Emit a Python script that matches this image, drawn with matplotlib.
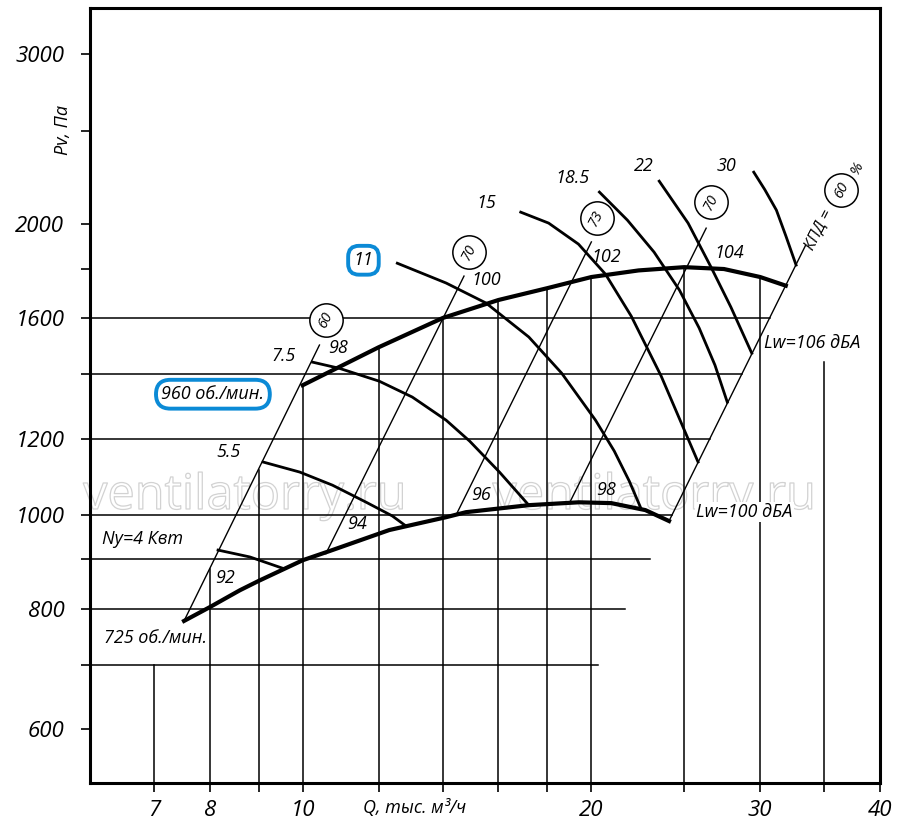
import numpy as np
import matplotlib
matplotlib.use("Agg")
import matplotlib.pyplot as plt
from matplotlib import patheffects as pe
from matplotlib.ticker import NullFormatter

plt.rcParams['font.family'] = ['Open Sans', 'DejaVu Sans']
plt.rcParams['font.style'] = 'italic'

# расход Q, тыс. м3/ч  /  давление Pv, Па
q_960 = [10.0, 12.0, 14.0, 16.0, 18.0, 20.0, 22.4, 25.0, 27.5, 30.0, 31.9]
p_960 = [1363, 1492, 1600, 1670, 1718, 1764, 1792, 1806, 1798, 1764, 1728]
q_725 = [7.52, 8.0, 8.6, 9.0, 10.0, 10.67, 12.31, 14.11, 14.8, 17.21, 19.41, 20.98, 22.77, 24.1]
p_725 = [777, 803, 836, 855, 898, 918, 965, 995, 1007, 1024, 1031, 1029, 1012, 986]

# линии мощности Ny, кВт
power_names = ['Ny=4 Квт', '5.5', '7.5', '11', '15', '18.5', '22', '30']
power_q = [
    [8.16, 8.81, 9.53],
    [9.09, 9.93, 10.74, 11.65, 12.40, 12.82],
    [10.24, 10.92, 12.02, 13.01, 14.11, 14.93, 16.04, 17.21],
    [12.55, 14.11, 15.53, 17.21, 18.62, 20.20, 21.13, 21.91, 22.55],
    [16.88, 18.05, 19.39, 20.69, 22.01, 23.65, 24.93, 25.84],
    [20.39, 21.81, 23.25, 24.71, 25.91, 26.91, 27.72],
    [23.54, 25.23, 26.66, 27.96, 29.40],
    [29.54, 30.33, 31.19, 31.91, 32.70],
]
power_p = [
    [920, 905, 881],
    [1135, 1108, 1074, 1031, 998, 974],
    [1440, 1419, 1376, 1325, 1254, 1193, 1108, 1024],
    [1823, 1739, 1658, 1529, 1403, 1254, 1165, 1084, 1014],
    [2059, 2006, 1908, 1776, 1607, 1393, 1233, 1135],
    [2160, 2020, 1872, 1710, 1562, 1430, 1309],
    [2217, 2006, 1806, 1642, 1471],
    [2265, 2173, 2069, 1945, 1815],
]

# линии КПД, %
eff_names = ['60', '70', '73', '70', '60']
eff_q = [(7.52, 10.41), (10.57, 14.73), (14.45, 20.0), (19.02, 26.35), (24.1, 33.45)]
eff_p = [(777, 1500), (912, 1768), (1000, 1918), (1034, 1982), (986, 1902)]

# уровни шума Lw, дБА
lw_725 = ['92', '94', '96', '98', 'Lw=100 дБА']
lw_960 = ['98', '100', '102', '104', 'Lw=106 дБА']

x_major = [7, 8, 10, 20, 30, 40]
x_minor = [9, 12, 14, 16, 18, 25, 35]
y_major = [600, 800, 1000, 1200, 1600, 2000, 3000]
y_minor = [700, 900, 1400, 1800, 2500]
grid_q = [7, 8, 9, 10, 12, 14, 16, 18, 20, 25, 30, 35]
grid_p = [700, 800, 900, 1000, 1200, 1400, 1600]

fig = plt.figure(figsize=(9, 8.31), dpi=100)
ax = fig.add_axes([90 / 900, 1 - 783 / 831, 790 / 900, 775 / 831])
ax.set_xscale('log')
ax.set_yscale('log')
ax.set_xlim(6.0, 40)
ax.set_ylim(528, 3350)

# сетка
left_k = eff_p[0][0] / eff_q[0][0] ** 2
right_k = eff_p[-1][0] / eff_q[-1][0] ** 2
for q in grid_q:
    if q < 8:
        top = grid_p[0]
    elif q < 10:
        top = left_k * q ** 2
    elif q <= q_960[-1]:
        top = np.exp(np.interp(np.log(q), np.log(q_960), np.log(p_960)))
    else:
        top = 1440
    ax.plot([q, q], [528, top], color='black', lw=1.1, zorder=1)
for p in grid_p:
    ax.plot([6.0, np.sqrt(p / right_k)], [p, p], color='black', lw=1.1, zorder=1)

# линии КПД
for q, p in zip(eff_q, eff_p):
    ax.plot(q, p, color='black', lw=1.0, zorder=2)

# мощность
for q, p in zip(power_q, power_p):
    ax.plot(q, p, color='black', lw=2.0, zorder=3, solid_joinstyle='round')

# характеристики
ax.plot(q_960, p_960, color='black', lw=3.0, zorder=4, solid_joinstyle='round')
ax.plot(q_725, p_725, color='black', lw=3.0, zorder=4, solid_joinstyle='round')

# кружки КПД
circ_q = [10.57, 14.91, 20.25, 26.66, 36.46]
circ_p = [1592, 1872, 2030, 2109, 2170]
ax.plot(circ_q, circ_p, 'o', ms=24, mfc='white', mec='black', mew=1.1, zorder=5)
for q, p, s in zip(circ_q, circ_p, eff_names):
    ax.text(q, p, s, fontsize=10.5, rotation=63, ha='center', va='center', zorder=6)
ax.text(34.53, 1976, 'КПД =', fontsize=11.5, rotation=63, ha='center', va='center', zorder=6)
ax.text(37.86, 2286, '%', fontsize=11, rotation=63, ha='center', va='center', zorder=6)

# подписи мощности
pw_pos = [(6.175, 944), (8.376, 1162), (9.555, 1460), (11.57, 1836), (15.54, 2103),
          (19.11, 2234), (22.66, 2301), (27.67, 2301)]
for (q, p), s in zip(pw_pos, power_names):
    if s.startswith('Ny'):
        ax.text(q, p, s, fontsize=13, ha='left', va='center', zorder=6)
    elif s == '11':
        ax.text(q, p, s, fontsize=13, ha='center', va='center', zorder=6,
                bbox=dict(boxstyle='round,pad=0.3,rounding_size=0.6', fc='white',
                          ec='#0b8ad6', lw=2.8))
    else:
        ax.text(q, p, s, fontsize=13, ha='center', va='center', zorder=6)

# подписи шума
lw725_pos = [(8.296, 860), (11.38, 979), (15.36, 1049), (20.74, 1061), (25.73, 1007)]
lw960_pos = [(10.88, 1489), (15.54, 1751), (20.74, 1849), (27.86, 1867), (30.29, 1506)]
for (q, p), s in zip(lw725_pos + lw960_pos, lw_725 + lw_960):
    if s.startswith('Lw'):
        ax.text(q, p, s, fontsize=13, ha='left', va='center', zorder=6,
                bbox=dict(boxstyle='square,pad=0.05', fc='white', ec='none'))
    else:
        ax.text(q, p, s, fontsize=13, ha='center', va='center', zorder=6)

ax.text(8.06, 1334, '960 об./мин.', fontsize=13, ha='center', va='center', zorder=6,
        bbox=dict(boxstyle='round,pad=0.3,rounding_size=0.8', fc='white', ec='#0b8ad6', lw=2.8))
ax.text(6.203, 746, '725 об./мин.', fontsize=13, ha='left', va='center', zorder=6,
        bbox=dict(boxstyle='square,pad=0.1', fc='white', ec='none'))

# водяной знак
for q in (8.70, 23.25):
    ax.text(q, 1046, 'ventilatorry.ru', fontsize=35, style='normal', ha='center', va='center',
            color='white', zorder=0.5,
            path_effects=[pe.Stroke(linewidth=0.9, foreground='#d2d2d2')])

# оси
ax.set_xticks(x_major, labels=[str(v) for v in x_major])
ax.set_xticks(x_minor, minor=True)
ax.set_yticks(y_major, labels=[str(v) for v in y_major])
ax.set_yticks(y_minor, minor=True)
ax.xaxis.set_minor_formatter(NullFormatter())
ax.yaxis.set_minor_formatter(NullFormatter())
ax.tick_params(which='both', direction='out', length=6.5, width=1.2, labelsize=16)
ax.tick_params(axis='y', pad=12)
ax.tick_params(axis='x', pad=6)
for sp in ax.spines.values():
    sp.set_linewidth(2.2)

fig.text(63 / 900, 1 - 130 / 831, 'Pv, Па', fontsize=13, rotation=90, ha='center', va='center')
fig.text(415 / 900, 1 - 808 / 831, 'Q, тыс. м³/ч', fontsize=13, ha='center', va='center')

fig.savefig('out.png', dpi=100)
